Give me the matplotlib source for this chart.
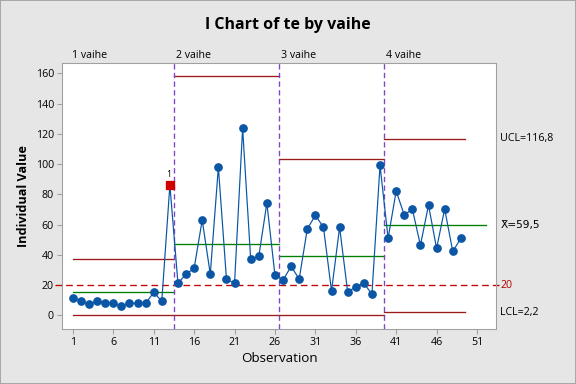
import matplotlib
matplotlib.use("Agg")
import matplotlib.pyplot as plt
import numpy as np

plt.rcParams['font.family'] = ['Open Sans', 'DejaVu Sans']

# values
te = [11.4, 9.4, 7.2, 9.4, 7.9, 7.9, 5.9, 7.9, 7.9, 7.9, 15.2, 9.4, 86.1,
      21.2, 27.3, 31.1, 63.0, 27.3, 98.0, 24.0, 21.2, 123.6, 37.0, 39.0, 74.2, 26.6,
      23.3, 32.4, 24.0, 57.1, 66.1, 58.4, 16.1, 58.2, 15.4, 18.9, 21.4, 13.9, 99.2,
      50.9, 82.2, 66.3, 70.3, 46.3, 72.9, 44.3, 70.3, 42.3, 50.9]
stage_names = ['1 vaihe', '2 vaihe', '3 vaihe', '4 vaihe']
stage_sizes = [13, 13, 13, 10]
stage_ucl = [37.0, 158.2, 103.1, 116.8]
stage_mean = [15.2, 46.9, 39.0, 59.5]
stage_lcl = [0.0, 0.0, 0.0, 2.2]
flagged = [13]  # test 1 failure
target = 20

blue = '#0A56A5'
red_line = '#9B1B1B'
green = '#008000'
purple = '#7F44C8'

obs = np.arange(1, len(te) + 1)

fig = plt.figure(figsize=(6, 4), dpi=96, facecolor='#E6E6E6',
                 edgecolor='#A8A8A8', linewidth=1.5)
ax = fig.add_axes([0.1076, 0.1432, 0.7535, 0.6928])
ax.set_facecolor('white')

# stage limits
bounds = np.cumsum([0] + stage_sizes) + 0.5
for i in range(len(stage_sizes)):
    x0 = 1 if i == 0 else bounds[i]
    x1 = bounds[i + 1]
    xm = x1
    if i == len(stage_sizes) - 1:
        xm = 52.1
    ax.plot([x0, x1], [stage_ucl[i]] * 2, color=red_line, lw=1.0, zorder=2)
    ax.plot([x0, x1], [stage_lcl[i]] * 2, color=red_line, lw=1.0, zorder=2)
    ax.plot([x0, xm], [stage_mean[i]] * 2, color=green, lw=1.0, zorder=2)
    ax.text(x0 + 0.3 if i else 0.9, 172, stage_names[i], fontsize=8,
            ha='left', va='center', clip_on=False)
for b in bounds[1:-1]:
    ax.axvline(b, color=purple, lw=1.0, ls=(0, (4, 2.5)), zorder=3)

# target line
ax.plot([-1.2, 53.75], [target, target], color='#C00000', lw=1.0,
        ls=(0, (5, 3)), clip_on=False, zorder=2)

ax.plot(obs, te, color=blue, lw=0.9, marker='o', ms=5.5, mfc=blue, mec=blue,
        zorder=4)
for f in flagged:
    ax.plot(f, te[f - 1], marker='s', ms=5.5, color='#D00000', zorder=5)
    ax.text(f - 0.2, te[f - 1] + 7, '1', fontsize=6.5, ha='center',
            va='center')

# right labels
lx = 53.9
ax.text(lx, stage_ucl[-1], 'UCL=116,8', fontsize=8, va='center',
        clip_on=False)
ax.text(lx, stage_mean[-1], 'X\u0304=59,5', fontsize=8, va='center',
        clip_on=False, family='DejaVu Sans')
ax.text(lx, target, '20', fontsize=8, va='center', color='#B00000',
        clip_on=False)
ax.text(lx, stage_lcl[-1], 'LCL=2,2', fontsize=8, va='center',
        clip_on=False)

ax.set_xlim(-0.35, 53.35)
ax.set_ylim(-9, 166.8)
ax.set_xticks(np.arange(1, 52, 5))
ax.set_yticks(np.arange(0, 161, 20))
ax.tick_params(labelsize=8, length=4, color='#A0A0A0', pad=2)
for s in ax.spines.values():
    s.set_color('#A0A0A0')

ax.set_xlabel('Observation', fontsize=10, labelpad=3)
ax.set_ylabel('Individual Value', fontsize=9.5, fontweight='bold', labelpad=4)
fig.suptitle('I Chart of te by vaihe', fontsize=12, fontweight='bold',
             x=0.5, y=0.955)

fig.savefig('out.png', dpi=96, facecolor=fig.get_facecolor(),
            edgecolor=fig.get_edgecolor())
